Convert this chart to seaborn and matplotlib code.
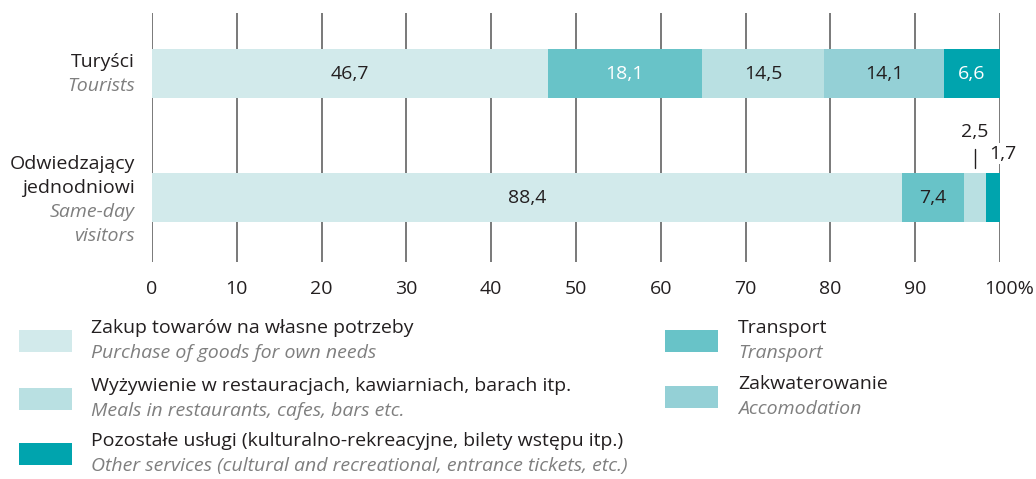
import matplotlib
matplotlib.use("Agg")
import matplotlib.pyplot as plt
from matplotlib.patches import Rectangle
from matplotlib.transforms import ScaledTranslation
import pandas as pd
import seaborn as sns

# Structure of expenditure (%)
groups_pl = ["Turyści", "Odwiedzający\njednodniowi"]
groups_en = ["Tourists", "Same-day\nvisitors"]
categories = ["goods", "transport", "meals", "accommodation", "other"]
goods = [46.7, 88.4]
transport = [18.1, 7.4]
meals = [14.5, 2.5]
accommodation = [14.1, 0.0]
other = [6.6, 1.7]
x_ticks = [0, 10, 20, 30, 40, 50, 60, 70, 80, 90, 100]

legend_pl = {
    "goods": "Zakup towarów na własne potrzeby",
    "meals": "Wyżywienie w restauracjach, kawiarniach, barach itp.",
    "other": "Pozostałe usługi (kulturalno-rekreacyjne, bilety wstępu itp.)",
    "transport": "Transport",
    "accommodation": "Zakwaterowanie",
}
legend_en = {
    "goods": "Purchase of goods for own needs",
    "meals": "Meals in restaurants, cafes, bars etc.",
    "other": "Other services (cultural and recreational, entrance tickets, etc.)",
    "transport": "Transport",
    "accommodation": "Accomodation",
}

colors = {
    "goods": "#d2eaeb",
    "transport": "#68c3c8",
    "meals": "#b9e0e2",
    "accommodation": "#94d0d6",
    "other": "#00a4ae",
}
DARK = "#231f20"
GREY = "#7f7f7f"
FS = 14

sns.set_theme(style="white")
plt.rcParams["font.family"] = ["Open Sans", "DejaVu Sans"]

values = pd.DataFrame(
    {"group": groups_pl, "goods": goods, "transport": transport, "meals": meals,
     "accommodation": accommodation, "other": other}
)
cum = values[categories].cumsum(axis=1)
starts = cum - values[categories]

fig = plt.figure(figsize=(10.36, 4.79), dpi=100)
ax = fig.add_axes([152 / 1036, 1 - 262 / 479, 848 / 1036, 249 / 479])

# grid lines behind the bars
for t in x_ticks:
    ax.axvline(t, color="#555555", lw=1.1, zorder=0)

# stacked bars: draw cumulative totals from the longest to the shortest
for cat in reversed(categories):
    sns.barplot(data=cum.assign(group=groups_pl), x=cat, y="group", orient="h",
                color=colors[cat], width=0.395, saturation=1, ax=ax,
                linewidth=0, zorder=2)

ax.set_xlim(0, 100)
ax.set_ylim(1.52, -0.488)
ax.set_xlabel("")
ax.set_ylabel("")
ax.set_yticks([])
ax.set_xticks(x_ticks)
ax.set_xticklabels([str(t) for t in x_ticks[:-1]] + ["100%"], fontsize=FS, color=DARK)
ax.tick_params(axis="x", length=0, pad=13)
last = ax.get_xticklabels()[-1]
last.set_transform(last.get_transform() + ScaledTranslation(9 / 100, 0, fig.dpi_scale_trans))
for s in ax.spines.values():
    s.set_visible(False)


def fmt(v):
    return f"{v:.1f}".replace(".", ",")


# value labels in tourists row
white_labels = {"transport", "other"}
for cat in categories:
    v = values.loc[0, cat]
    c = starts.loc[0, cat] + v / 2
    ax.text(c, 0, fmt(v), ha="center", va="center",
            fontsize=FS, color="white" if cat in white_labels else DARK, zorder=5)

# same-day visitors row
for cat in ["goods", "transport"]:
    v = values.loc[1, cat]
    c = starts.loc[1, cat] + v / 2
    ax.text(c, 1, fmt(v), ha="center", va="center", fontsize=FS, color=DARK, zorder=5)

v = values.loc[1, "meals"]
c = starts.loc[1, "meals"] + v / 2
ax.plot([c, c], [1 - 0.395 / 2 - 0.04, 1 - 0.395 / 2 - 0.195], color=DARK, lw=1, zorder=5)
ax.annotate(fmt(v), xy=(c, 1), xytext=(0, 66), textcoords="offset pixels",
            ha="center", va="center", fontsize=FS, color=DARK, zorder=5)

v = values.loc[1, "other"]
c = starts.loc[1, "other"] + v / 2
ax.annotate(fmt(v), xy=(c, 1), xytext=(10, 44), textcoords="offset pixels",
            ha="center", va="center", fontsize=FS, color=DARK, zorder=5,
            bbox=dict(boxstyle="square,pad=0.1", fc="white", ec="none"))

# group labels left of the axis
label_offsets = [(12, -12), (33.5, 9.5, -14.5, -38.5)]
for i, (pl, en) in enumerate(zip(groups_pl, groups_en)):
    lines = [(t, DARK, "normal") for t in pl.split("\n")] + [(t, GREY, "italic") for t in en.split("\n")]
    for (txt, col, sty), dy in zip(lines, label_offsets[i]):
        ax.annotate(txt, xy=(0, i), xycoords=("axes fraction", "data"),
                    xytext=(-17, dy), textcoords="offset pixels", ha="right", va="center",
                    fontsize=FS, color=col, style=sty, annotation_clip=False)

# legend
W, H = 1036, 479
legend_layout = [
    ("goods", 19, 341, 91),
    ("meals", 19, 399, 91),
    ("other", 19, 454, 91),
    ("transport", 665, 341, 738),
    ("accommodation", 665, 397, 738),
]
for cat, px, py, tx in legend_layout:
    fig.patches.append(Rectangle((px / W, 1 - (py + 11) / H), 53 / W, 22 / H,
                                 transform=fig.transFigure, color=colors[cat], lw=0))
    fig.text(tx / W, 1 - (py - 13) / H, legend_pl[cat], ha="left", va="center",
             fontsize=FS, color=DARK)
    fig.text(tx / W, 1 - (py + 12) / H, legend_en[cat], ha="left", va="center",
             fontsize=FS, color=GREY, style="italic")

fig.savefig("out.png", dpi=100)
